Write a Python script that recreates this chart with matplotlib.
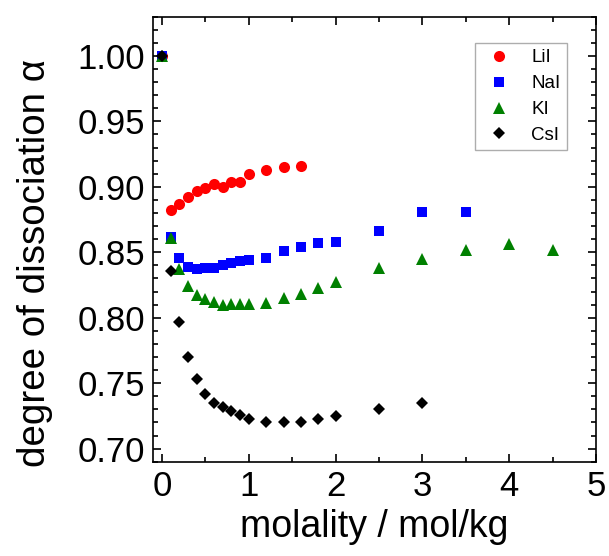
import matplotlib
matplotlib.use("Agg")
import matplotlib.pyplot as plt
from matplotlib.ticker import MultipleLocator, FormatStrFormatter

plt.rcParams['font.family'] = ['Liberation Sans', 'DejaVu Sans']

x_lii = [0, 0.1, 0.2, 0.3, 0.4, 0.5, 0.6, 0.7, 0.8, 0.9, 1.0, 1.2, 1.4, 1.6]
y_lii = [1.000, 0.882, 0.887, 0.892, 0.897, 0.899, 0.902, 0.900, 0.904, 0.904, 0.910, 0.913, 0.915, 0.916]

x_nai = [0, 0.1, 0.2, 0.3, 0.4, 0.5, 0.6, 0.7, 0.8, 0.9, 1.0, 1.2, 1.4, 1.6, 1.8, 2.0, 2.5, 3.0, 3.5]
y_nai = [1.000, 0.862, 0.846, 0.8385, 0.837, 0.8377, 0.838, 0.840, 0.842, 0.843, 0.844, 0.846, 0.851,
         0.854, 0.857, 0.858, 0.866, 0.881, 0.881]

x_ki = [0, 0.1, 0.2, 0.3, 0.4, 0.5, 0.6, 0.7, 0.8, 0.9, 1.0, 1.2, 1.4, 1.6, 1.8, 2.0, 2.5, 3.0, 3.5, 4.0, 4.5]
y_ki = [1.000, 0.861, 0.837, 0.824, 0.817, 0.814, 0.812, 0.8095, 0.8105, 0.8105, 0.8105, 0.8115, 0.815,
        0.818, 0.823, 0.827, 0.838, 0.845, 0.852, 0.856, 0.852]

x_csi = [0, 0.1, 0.2, 0.3, 0.4, 0.5, 0.6, 0.7, 0.8, 0.9, 1.0, 1.2, 1.4, 1.6, 1.8, 2.0, 2.5, 3.0]
y_csi = [1.000, 0.836, 0.797, 0.770, 0.753, 0.742, 0.7345, 0.7315, 0.729, 0.726, 0.7226, 0.7203, 0.7203,
         0.7203, 0.723, 0.725, 0.730, 0.735]

fig = plt.figure(figsize=(6.09, 5.56), dpi=100)
ax = fig.add_axes([0.2517, 0.1696, 0.9787 - 0.2517, 0.970 - 0.1696])

ax.plot(x_lii, y_lii, 'o', color='#ff0000', ms=8, mew=0, label='LiI')
ax.plot(x_nai, y_nai, 's', color='#0000ff', ms=6.8, mew=0, label='NaI')
ax.plot(x_ki, y_ki, '^', color='#008000', ms=8.5, mew=0, label='KI')
ax.plot(x_csi, y_csi, 'D', color='#000000', ms=6.5, mew=0, label='CsI')

ax.set_xlim(-0.1, 5.0)
ax.set_ylim(0.69, 1.03)
ax.xaxis.set_major_locator(MultipleLocator(1))
ax.xaxis.set_minor_locator(MultipleLocator(0.5))
ax.yaxis.set_major_locator(MultipleLocator(0.05))
ax.yaxis.set_minor_locator(MultipleLocator(0.01))
ax.yaxis.set_major_formatter(FormatStrFormatter('%.2f'))

ax.tick_params(which='both', direction='in', top=True, right=True, width=1.2)
ax.tick_params(which='major', length=6, labelsize=25, pad=6)
ax.tick_params(which='minor', length=3.5)
for s in ax.spines.values():
    s.set_linewidth(1.2)

ax.set_xlabel('molality / mol/kg', fontsize=27, labelpad=4)
ax.set_ylabel('degree of dissociation α', fontsize=27.7)
ax.yaxis.set_label_coords(-0.226, 0.447)

leg = ax.legend(loc='upper right', bbox_to_anchor=(0.934, 0.941), borderaxespad=0,
                fontsize=13.5, frameon=True, fancybox=False, edgecolor='#999999',
                markerscale=1.0, handletextpad=0.7, borderpad=0.33, labelspacing=0.47,
                handlelength=2.0)
leg.get_frame().set_linewidth(1.0)

fig.savefig('out.png', dpi=100)
